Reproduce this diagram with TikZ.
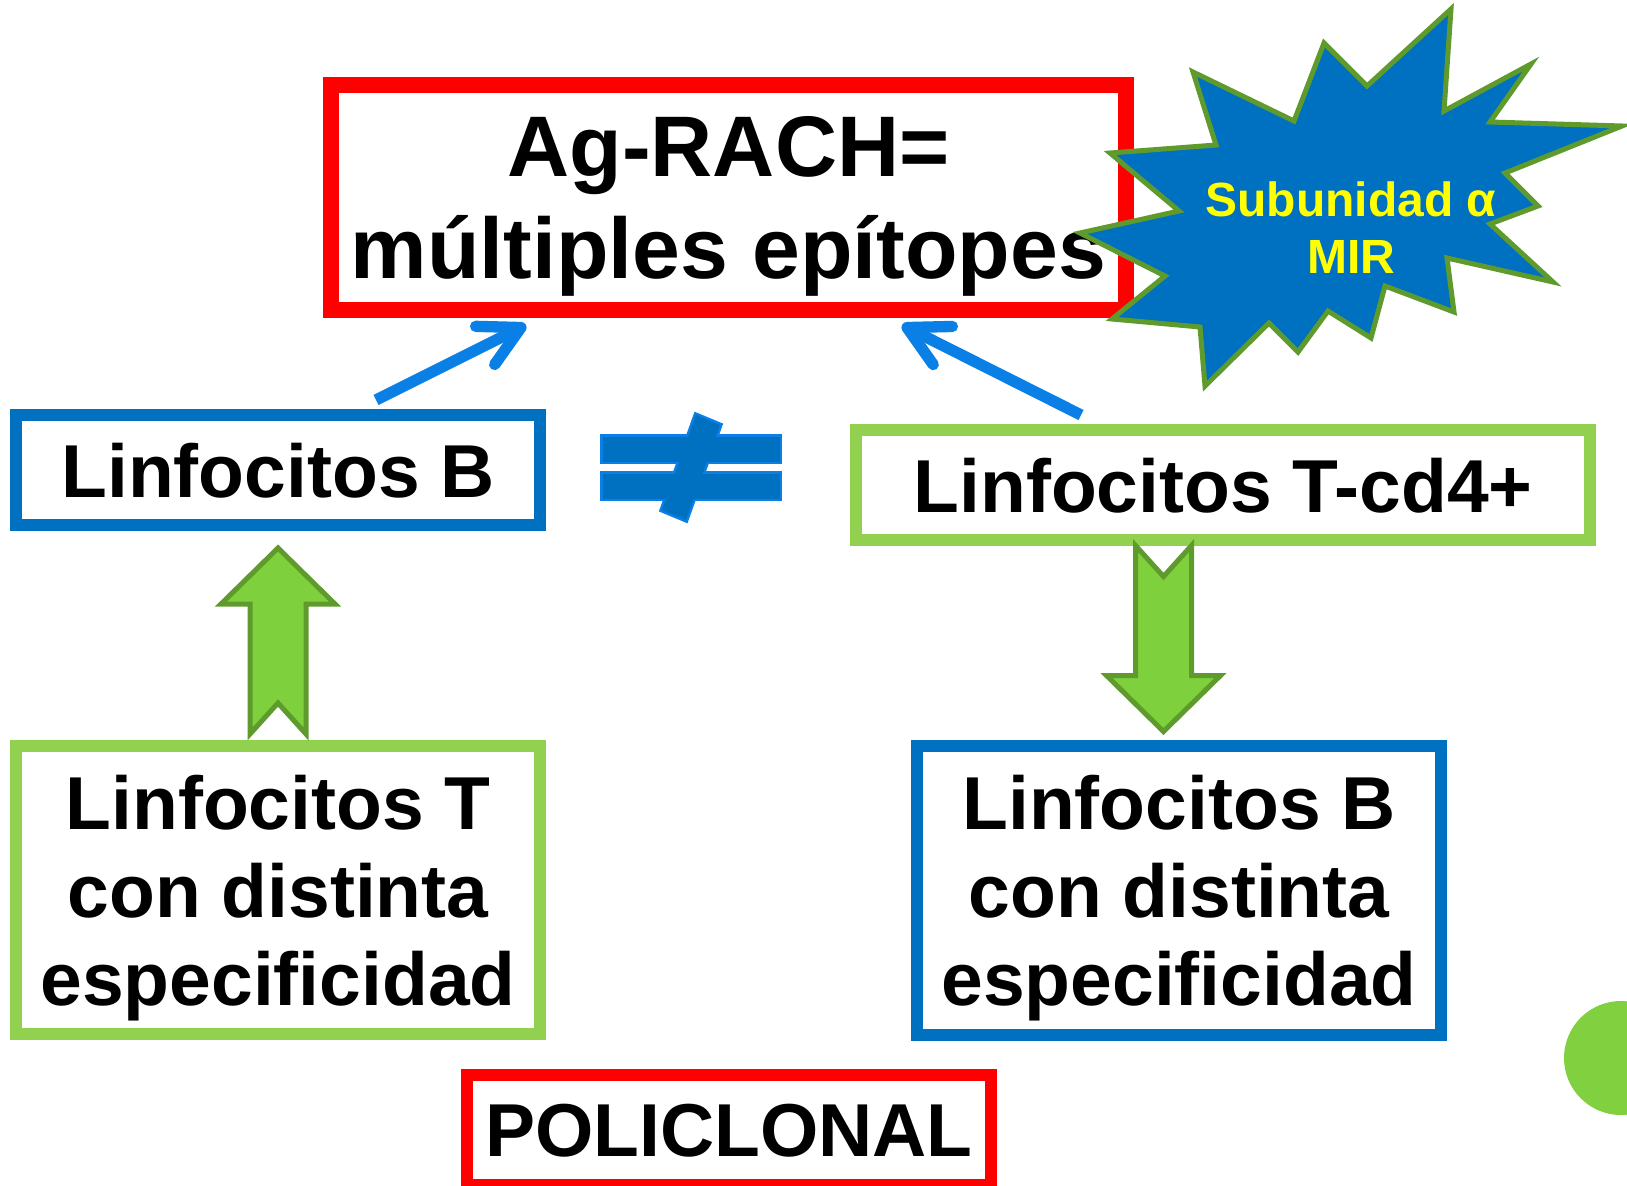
\documentclass[tikz,border=0pt]{standalone}
\usepackage{fontspec}
\setmainfont{Liberation Sans}
\usetikzlibrary{arrows.meta}
\usetikzlibrary{calc}

\definecolor{boxred}{HTML}{FF0000}
\definecolor{boxblue}{HTML}{0070C0}
\definecolor{boxgreen}{HTML}{92D050}
\definecolor{linkblue}{HTML}{0A80E6}
\definecolor{fatgreen}{HTML}{7ED03C}
\definecolor{edgegreen}{HTML}{5F9A2C}
\definecolor{dotgreen}{HTML}{80D040}
\definecolor{staryellow}{HTML}{FFFF00}

\tikzset{
  cellbox/.style={draw, line width=9pt, fill=white, inner sep=0pt, align=center, text depth=0pt, font=\fontsize{56.25}{66}\selectfont\bfseries},
  link/.style={draw=linkblue, line width=8.5pt, -{Straight Barb[length=30pt,width=32pt,line cap=round,line join=round]}},
  fatarrow/.pic={\draw[fill=fatgreen, draw=edgegreen, line width=3.75pt, line join=miter] (0,93) -- (57,37) -- (28,37) -- (28,-93) -- (0,-62) -- (-28,-93) -- (-28,37) -- (-57,37) -- cycle;}
}

\begin{document}
\begin{tikzpicture}[x=0.75pt,y=0.75pt,yscale=-1,xscale=1]
\useasboundingbox (0,0) rectangle (1627,1185);

% Text Node
\node [draw=boxred, line width=12pt, fill=white, inner sep=0pt, align=center, text depth=0pt, minimum width=596.25pt, minimum height=168.75pt, font=\fontsize{64.5}{76.5}\selectfont\bfseries] (ag) at (728.5,197.5) {Ag-RACH=\\múltiples epítopes};

%Shape: Explosion
\draw [fill=boxblue, draw=edgegreen, line width=3.75pt, line join=miter] (1193,72) -- (1294,121) -- (1324,43) -- (1367,86) -- (1451,9) -- (1444,111) -- (1531,64) -- (1490,122) -- (1622,126) -- (1505,173) -- (1538,206) -- (1490,224) -- (1553,282) -- (1447,258) -- (1454,312) -- (1385,286) -- (1371,338) -- (1328,311) -- (1298,352) -- (1269,323) -- (1205,386) -- (1200,327) -- (1112,319) -- (1165,276) -- (1080,233) -- (1179,211) -- (1110,153) -- (1216,145) -- cycle ;
% Text Node
\node [inner sep=0pt, align=center, text depth=0pt, text=staryellow, font=\fontsize{36}{42.75}\selectfont\bfseries] (mir) at (1351,228) {Subunidad α\\MIR};

% Text Node
\node [cellbox, draw=boxblue, minimum width=393pt, minimum height=82.5pt] (lb) at (278,470) {Linfocitos B};
% Text Node
\node [cellbox, draw=boxgreen, minimum width=550.5pt, minimum height=82.5pt] (tc) at (1223,485) {Linfocitos T-cd4+};
% Text Node
\node [cellbox, draw=boxgreen, minimum width=393pt, minimum height=216pt] (lt) at (278,890) {Linfocitos T\\con distinta\\especificidad};
% Text Node
\node [cellbox, draw=boxblue, minimum width=393pt, minimum height=216.75pt] (bb) at (1179,890.5) {Linfocitos B\\con distinta\\especificidad};
% Text Node
\node [cellbox, draw=boxred, minimum width=393.4pt, minimum height=82.5pt] (pc) at (729,1130) {POLICLONAL};

%Straight Lines
\draw [link] ($(lb.north)+(98,-9)$) -- ($(ag.south)+(-202.5,7)$) ;
\draw [link] ($(tc.north)+(-142,-9)$) -- ($(ag.south)+(173.5,7)$) ;

%Up Arrow
\pic at ($(lb.south)+(0,110)$) {fatarrow};
%Down Arrow
\pic [rotate=180] at ($(tc.south)+(-59.5,92.5)$) {fatarrow};

%Shape: Not Equal
\draw [fill=boxblue, draw=linkblue, line width=3.75pt] (602.5,436.5) rectangle (779.5,461.5) ;
\draw [fill=boxblue, draw=linkblue, line width=3.75pt] (602.5,473.5) rectangle (779.5,498.5) ;
\draw [fill=boxblue, draw=linkblue, line width=3.75pt] (696,415) -- (720,425) -- (686,520) -- (662,510) -- cycle ;
\fill [boxblue] (602.5,436.5) rectangle (779.5,461.5) ;
\fill [boxblue] (602.5,473.5) rectangle (779.5,498.5) ;
\fill [boxblue] (696,415) -- (720,425) -- (686,520) -- (662,510) -- cycle ;

%Shape: Circle
\fill [dotgreen] (1621,1058) circle (57) ;

\end{tikzpicture}
\end{document}
